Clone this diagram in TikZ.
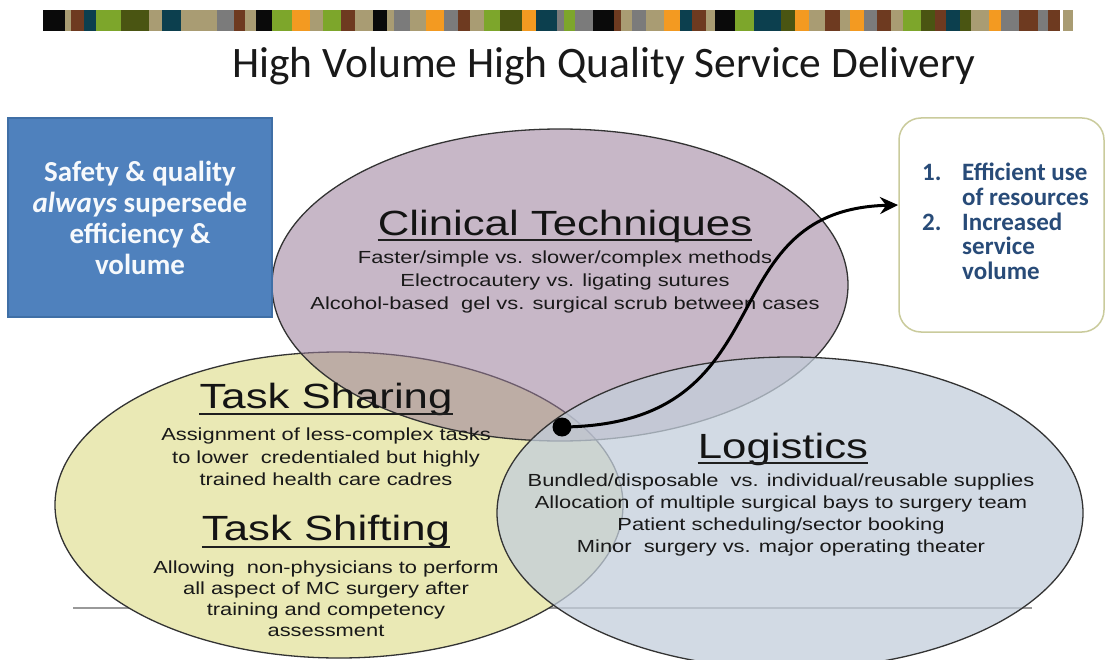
\documentclass[tikz,border=0pt]{standalone}
\usepackage{fontspec}
\setmainfont{Liberation Sans}
\newfontfamily\arialw[FakeStretch=1.25]{Liberation Sans}
\newfontfamily\calib{Carlito}
\usetikzlibrary{arrows.meta}
\definecolor{cK}{HTML}{0A0A0A}
\definecolor{cT}{HTML}{A99C73}
\definecolor{cB}{HTML}{6E3A20}
\definecolor{cE}{HTML}{0C3F4E}
\definecolor{cG}{HTML}{7DA62B}
\definecolor{cO}{HTML}{4A5512}
\definecolor{cY}{HTML}{7B7B7B}
\definecolor{cR}{HTML}{F39A21}
\definecolor{vennY}{HTML}{EAE9B5}
\definecolor{vennP}{HTML}{997C99}
\definecolor{vennB}{HTML}{C3CEDB}
\definecolor{boxblue}{HTML}{4F81BD}
\definecolor{boxblueline}{HTML}{3F6FA6}
\definecolor{boxolive}{HTML}{CACB9C}
\definecolor{navytext}{HTML}{284B78}
\begin{document}
\begin{tikzpicture}[x=1pt,y=-1pt,
  heading/.style={font=\arialw\fontsize{35}{42}\selectfont, inner sep=0, anchor=base, text=black!92},
  subtxt/.style={align=center, inner sep=0, text=black!90},
  venn/.style={draw=black!80, line width=1.3pt},
  uline/.style={line width=2.4pt, draw=black!88},
  stripe/.style={fill=#1}
]
\useasboundingbox (0,0) rectangle (1107,660);
\fill[white] (0,0) rectangle (1107,660);
\clip (0,0) rectangle (1107,660);

% colour bar
\foreach \a/\b/\c in {42.6/65.3/cK,65.3/71/cT,71/83.7/cB,83.7/95.8/cE,95.8/120.7/cG,120.7/149/cO,149/161.8/cT,161.8/181/cE,181/216.5/cT,216.5/234.2/cY,234.2/244.9/cB,244.9/255.5/cT,255.5/271.8/cK,271.8/292.4/cG,292.4/310.1/cR,310.1/322.9/cT,322.9/340.7/cG,340.7/354.9/cB,354.9/372.6/cT,372.6/386.8/cK,386.8/393.9/cT,393.9/410.2/cY,410.2/425.8/cT,425.8/443.6/cR,443.6/457.8/cY,457.8/469.8/cB,469.8/484/cT,484/500.4/cG,500.4/521.6/cO,521.6/535.8/cR,535.8/557.1/cE,557.1/564.2/cY,564.2/574.9/cG,574.9/592.6/cY,592.6/613.9/cK,613.9/621/cB,621/631.7/cT,631.7/645.9/cY,645.9/663.6/cT,663.6/679.9/cR,679.9/692/cE,692/706.2/cB,706.2/715.4/cT,715.4/734.6/cK,734.6/754.4/cG,754.4/780.7/cE,780.7/794.9/cO,794.9/809.1/cR,809.1/825.4/cT,825.4/839.6/cB,839.6/850.3/cT,850.3/864.4/cR,864.4/876.5/cY,876.5/890.7/cB,890.7/902.8/cT,902.8/921.2/cG,921.2/935.4/cO,935.4/946.1/cB,946.1/959.5/cE,959.5/970.9/cO,970.9/988.6/cT,988.6/1000.7/cR,1000.7/1018.5/cY,1018.5/1037.6/cB,1037.6/1048.3/cY,1048.3/1059.6/cB,1062.5/1073.1/cT}
  \fill[stripe=\c] (\a,10) rectangle (\b,31);

% title
\node[font=\calib\fontsize{43.5}{50}\selectfont, inner sep=0, anchor=base, text=black!90] (title) at (604,78) {High Volume High Quality Service Delivery};

% baseline rule behind the circles
\draw[line width=1.2pt, draw=black!40] (73,608) -- (1032,608);

% Venn ellipses
\draw[venn, fill=vennY] (339,505) ellipse [x radius=284, y radius=153];
\draw[venn, fill=vennP, fill opacity=0.55] (560,285) ellipse [x radius=288, y radius=156];
\draw[venn, fill=vennB, fill opacity=0.75] (790,513) ellipse [x radius=293, y radius=156];

% left blue box
\node[fill=boxblue, draw=boxblueline, line width=1.5pt, minimum width=264pt, minimum height=199pt, inner sep=0,
      align=center, text=white!95!boxblue, font=\calib\bfseries\fontsize{29}{31}\selectfont] (safe) at (140,217.5)
  {Safety \& quality\\ \textit{always} supersede\\ efficiency \& \\ volume};

% right result box
\node[draw=boxolive, line width=1.5pt, rounded corners=22pt, fill=white, minimum width=205pt, minimum height=214pt, inner sep=0] (res) at (1001.5,225) {};
\node[anchor=west, inner sep=0, text=navytext, font=\calib\bfseries\fontsize{25}{24.5}\selectfont] (restext) at (922,225)
  {\begin{tabular}{@{}l@{}l@{}}
   \makebox[40pt][l]{1.} & Efficient use\\
   & of resources\\
   2. & Increased\\
   & service\\
   & volume
   \end{tabular}};

% Clinical Techniques
\node[heading] (ct) at (565,236) {Clinical Techniques};
\draw[uline] ([yshift=-4pt]ct.base west) -- ([yshift=-4pt]ct.base east);
\node[subtxt, font=\arialw\fontsize{17.5}{23}\selectfont] (cttxt) at (565,282)
  {Faster/simple vs. slower/complex methods\\ Electrocautery vs. ligating sutures\\ Alcohol-based~ gel vs. surgical scrub between cases};

% Task Sharing
\node[heading] (ts) at (326,408) {Task Sharing};
\draw[uline] ([yshift=-6pt]ts.base west) -- ([yshift=-6pt]ts.base east);
\node[subtxt, font=\arialw\fontsize{17.5}{22.5}\selectfont] (tstxt) at (326,457)
  {Assignment of less-complex tasks\\ to lower~ credentialed but highly\\ trained health care cadres};

% Task Shifting
\node[heading] (tf) at (326,540) {Task Shifting};
\draw[uline] ([yshift=-7pt]tf.base west) -- ([yshift=-7pt]tf.base east);
\node[subtxt, font=\arialw\fontsize{17.5}{21}\selectfont] (tftxt) at (326,599)
  {Allowing~ non-physicians to perform\\ all aspect of MC surgery after\\ training and competency\\ assessment};

% Logistics
\node[heading] (lg) at (783,458) {Logistics};
\draw[uline] ([yshift=-5pt]lg.base west) -- ([yshift=-5pt]lg.base east);
\node[subtxt, font=\arialw\fontsize{17.5}{22}\selectfont] (lgtxt) at (781,515)
  {Bundled/disposable~ vs. individual/reusable supplies\\ Allocation of multiple surgical bays to surgery team\\ Patient scheduling/sector booking\\ Minor~ surgery vs. major operating theater};

% connector
\node[circle, fill=black, minimum size=19pt, inner sep=0] (dot) at (562,427) {};
\coordinate (tip) at (898,205);
\draw[line width=3pt, -{Stealth[length=18pt,width=17pt,inset=6pt]}] (dot.center) .. controls (790,425) and (705,210) .. (tip);
\end{tikzpicture}
\end{document}
